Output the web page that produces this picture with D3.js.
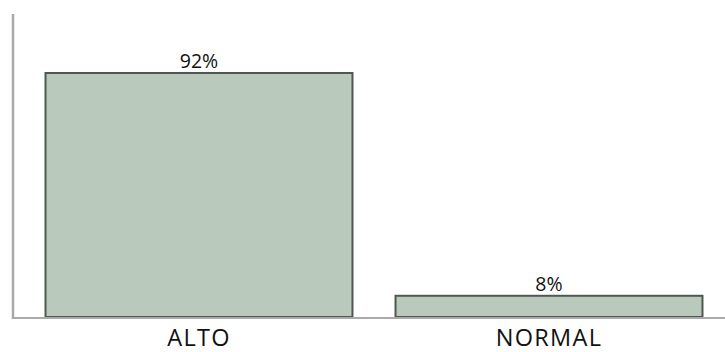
<!DOCTYPE html>
<html><head><meta charset="utf-8">
<script src="https://cdn.jsdelivr.net/npm/d3@7"></script>
<style>body{margin:0;background:#fff;}svg{display:block;}</style>
</head><body>
<script>
const categories = ["ALTO", "NORMAL"];
const values = [92, 8];
const valueLabels = ["92%", "8%"];

const W = 725, H = 352;
const svg = d3.select("body").append("svg").attr("width", W).attr("height", H);
const x = d3.scaleBand().domain(categories).range([24, 724]).paddingInner(0.123).paddingOuter(0.0615);
const y = d3.scaleLinear().domain([0, 92]).range([317, 73]);

svg.selectAll("rect.bar").data(values).join("rect").attr("class","bar")
  .attr("x", (d,i)=>x(categories[i])).attr("width", x.bandwidth())
  .attr("y", d=>y(d)).attr("height", d=>y(0)-y(d))
  .attr("fill", "#b9cabd").attr("stroke", "#4e5751").attr("stroke-width", 2);

svg.selectAll("text.val").data(values).join("text").attr("class","val")
  .attr("x", (d,i)=>x(categories[i])+x.bandwidth()/2).attr("y", d=>y(d)-5)
  .attr("text-anchor","middle").attr("font-family","Open Sans").attr("font-size",19.5).attr("fill","#111")
  .text((d,i)=>valueLabels[i]);

// axes
const xAxis = svg.append("g").attr("transform","translate(0,318)")
  .call(d3.axisBottom(x).tickSize(0).tickPadding(0));
xAxis.select(".domain").remove();
xAxis.append("line").attr("x1",13).attr("x2",725).attr("y1",0).attr("y2",0).attr("stroke","#aaaaaa").attr("stroke-width",2);
xAxis.selectAll("text").attr("font-family","Open Sans").attr("font-size",23.5).attr("fill","#111")
  .attr("y",27.5).attr("dy","0").attr("letter-spacing","1.3px");

const yAxis = svg.append("g").attr("transform","translate(13,0)")
  .call(d3.axisLeft(y).ticks(0).tickSize(0));
yAxis.select(".domain").remove();
yAxis.append("line").attr("x1",0).attr("x2",0).attr("y1",14).attr("y2",319).attr("stroke","#aaaaaa").attr("stroke-width",2.5);
</script>
</body></html>
